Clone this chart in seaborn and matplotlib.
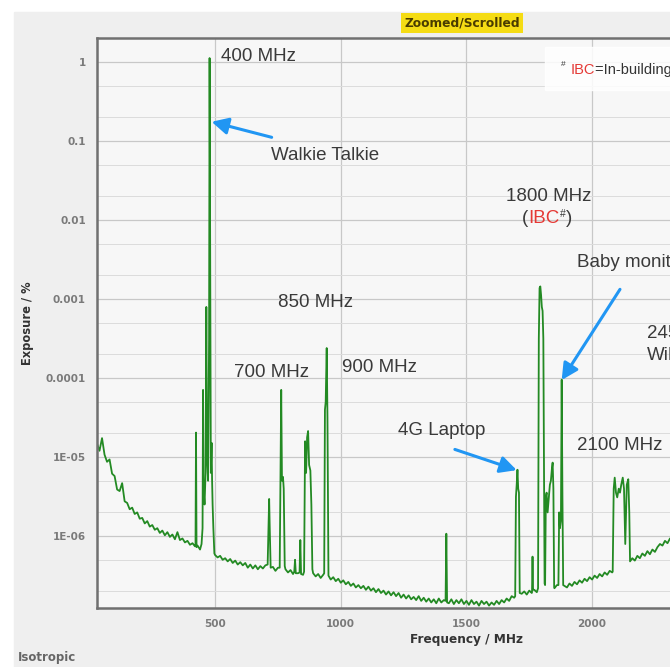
import numpy as np
import pandas as pd
import seaborn as sns
from matplotlib import pyplot as plt
from matplotlib.patches import Rectangle
from matplotlib.ticker import FixedLocator, LogLocator, NullFormatter

# baseline noise floor, log10(exposure %), sampled every 10 MHz from 30 to 2310 MHz
base_freq = np.arange(30, 2320, 10)
base_log = np.array([
    -4.83, -4.92, -4.76, -4.97, -5.06, -5.03, -5.21, -5.24, -5.41, -5.43,
    -5.33, -5.56, -5.58, -5.66, -5.64, -5.72, -5.70, -5.78, -5.77, -5.84,
    -5.81, -5.88, -5.86, -5.92, -5.90, -5.96, -5.93, -5.99, -5.95, -6.01,
    -5.98, -6.04, -5.95, -6.05, -6.03, -6.08, -6.06, -6.11, -6.09, -6.13,
    -6.12, -6.17, -6.00, -5.60, -5.40, -5.30, -5.70, -6.24, -6.27, -6.25,
    -6.30, -6.28, -6.32, -6.29, -6.34, -6.31, -6.36, -6.33, -6.37, -6.34,
    -6.40, -6.36, -6.41, -6.37, -6.42, -6.38, -6.41, -6.37, -6.35, -6.42,
    -6.39, -6.44, -6.40, -6.40, -5.30, -6.42, -6.46, -6.43, -6.48, -6.44,
    -6.47, -6.45, -6.49, -5.00, -5.00, -5.20, -6.47, -6.51, -6.48, -6.53,
    -6.49, -4.30, -6.50, -6.55, -6.52, -6.57, -6.54, -6.59, -6.56, -6.61,
    -6.58, -6.63, -6.60, -6.65, -6.62, -6.66, -6.63, -6.68, -6.64, -6.69,
    -6.66, -6.71, -6.67, -6.72, -6.69, -6.74, -6.70, -6.75, -6.71, -6.76,
    -6.72, -6.78, -6.74, -6.79, -6.75, -6.80, -6.77, -6.81, -6.76, -6.82,
    -6.78, -6.83, -6.79, -6.84, -6.80, -6.85, -6.79, -6.84, -6.81, -6.80,
    -6.85, -6.80, -6.86, -6.81, -6.85, -6.80, -6.86, -6.82, -6.87, -6.81,
    -6.86, -6.83, -6.88, -6.82, -6.86, -6.83, -6.88, -6.84, -6.87, -6.82,
    -6.86, -6.81, -6.84, -6.79, -6.82, -6.76, -6.78, -5.40, -5.50, -6.73,
    -6.70, -6.74, -6.69, -6.72, -6.68, -6.71, -3.00, -3.00, -6.00, -5.50,
    -5.50, -5.20, -6.66, -6.62, -5.70, -5.50, -6.63, -6.65, -6.60, -6.63,
    -6.58, -6.61, -6.56, -6.59, -6.54, -6.57, -6.52, -6.55, -6.50, -6.53,
    -6.48, -6.51, -6.46, -6.49, -6.44, -6.46, -5.30, -5.50, -5.45, -5.30,
    -6.00, -5.40, -6.32, -6.28, -6.31, -6.25, -6.28, -6.22, -6.25, -6.19,
    -6.23, -6.17, -6.20, -6.14, -6.10, -6.12, -6.06, -6.09, -6.03,
])

# emission peaks (MHz, log10 exposure %)
spike424_f = [422, 424, 426]
spike424_v = [-6.12, -4.69, -6.14]
walkie_f = [446, 450, 452, 454, 458, 462, 465, 468, 472, 476, 478, 480, 483, 486, 488, 490, 493, 497]
walkie_v = [-6.10, -5.90, -4.15, -5.40, -5.60, -5.20, -3.10, -5.00, -5.30, -3.50, 0.05, -2.00,
            -5.20, -4.82, -5.30, -5.60, -5.90, -6.22]
b700_f = [709, 713, 715, 717, 721]
b700_v = [-6.36, -5.80, -5.53, -5.85, -6.40]
b760_f = [757, 760, 763, 766, 770, 773, 777]
b760_v = [-6.40, -5.30, -4.15, -5.30, -5.25, -5.40, -6.38]
s818_f = [815, 818, 821]
s818_v = [-6.45, -6.30, -6.47]
s839_f = [836, 839, 842]
s839_v = [-6.46, -6.05, -6.48]
b870_f = [854, 858, 862, 866, 870, 874, 879, 883, 887]
b870_v = [-6.45, -4.80, -5.20, -4.75, -4.67, -5.10, -5.17, -5.60, -6.42]
b940_f = [934, 937, 940, 944, 947, 951]
b940_v = [-6.47, -4.40, -4.30, -3.62, -4.50, -6.50]
s1420_f = [1417, 1420, 1423]
s1420_v = [-6.82, -5.97, -6.84]
lte_f = [1694, 1697, 1700, 1703, 1706, 1709, 1712]
lte_v = [-6.76, -5.50, -5.35, -5.16, -5.40, -5.45, -6.72]
s1763_f = [1761, 1763, 1765]
s1763_v = [-6.70, -6.26, -6.68]
b1800_f = [1785, 1788, 1791, 1794, 1797, 1800, 1803, 1806, 1809, 1811]
b1800_v = [-6.66, -3.50, -2.86, -2.84, -2.95, -3.10, -3.15, -3.50, -5.50, -6.60]
b1830_f = [1813, 1816, 1819, 1823, 1827, 1832, 1836, 1840, 1843, 1846, 1849]
b1830_v = [-6.62, -5.50, -5.45, -5.70, -5.55, -5.35, -5.30, -5.15, -5.07, -5.40, -6.64]
baby_f = [1866, 1869, 1872, 1876, 1879, 1882, 1885]
baby_v = [-6.62, -5.70, -5.90, -5.80, -4.02, -5.50, -6.62]
b2100_f = [2082, 2086, 2090, 2095, 2100, 2106, 2111, 2116, 2122, 2127, 2132, 2138, 2144, 2148, 2151]
b2100_v = [-6.45, -5.40, -5.26, -5.45, -5.51, -5.40, -5.45, -5.35, -5.26, -5.40, -6.10, -5.35,
           -5.28, -5.70, -6.32]

xtick_vals = [500, 1000, 1500, 2000]
ytick_vals = [1, 0.1, 0.01, 0.001, 0.0001, 1e-5, 1e-6]
ytick_labels = ['1', '0.1', '0.01', '0.001', '0.0001', '1E-05', '1E-06']

peaks = [(spike424_f, spike424_v), (walkie_f, walkie_v), (b700_f, b700_v), (b760_f, b760_v),
         (s818_f, s818_v), (s839_f, s839_v), (b870_f, b870_v), (b940_f, b940_v),
         (s1420_f, s1420_v), (lte_f, lte_v), (s1763_f, s1763_v), (b1800_f, b1800_v),
         (b1830_f, b1830_v), (baby_f, baby_v), (b2100_f, b2100_v)]

keep = np.ones(len(base_freq), dtype=bool)
for f, v in peaks:
    keep &= ~((base_freq >= min(f)) & (base_freq <= max(f)))
freq = np.concatenate([base_freq[keep]] + [np.array(f) for f, v in peaks])
logv = np.concatenate([base_log[keep]] + [np.array(v) for f, v in peaks])
df = pd.DataFrame({'freq': freq, 'exposure': 10.0 ** logv}).sort_values('freq')

sns.set_style('white')
plt.rcParams['font.family'] = ['Liberation Sans', 'DejaVu Sans']

W, H = 670, 667
fig = plt.figure(figsize=(W / 100, H / 100), dpi=100)
fig.patch.set_facecolor('white')
fig.add_artist(Rectangle((14 / W, 0), 1, 1 - 12 / H, transform=fig.transFigure,
                         color='#efefef', zorder=0))

ax = fig.add_axes([97 / W, 1 - 608 / H, (W - 97) / W, (608 - 38) / H])
ax.set_facecolor('#f7f7f7')
sns.lineplot(data=df, x='freq', y='exposure', ax=ax, color='#238a23', lw=1.3,
             estimator=None, sort=True)
ax.set_yscale('log')
ax.set_xlim(30, 2310)
ax.set_ylim(10 ** -6.91, 10 ** 0.304)

ax.set_xticks(xtick_vals)
ax.yaxis.set_major_locator(FixedLocator(ytick_vals))
ax.set_yticklabels(ytick_labels)
ax.yaxis.set_minor_locator(LogLocator(base=10, subs=[2, 5]))
ax.yaxis.set_minor_formatter(NullFormatter())
ax.grid(which='major', axis='both', color='#c8c8c8', lw=0.9)
ax.grid(which='minor', axis='y', color='#dcdcdc', lw=0.7)
ax.set_axisbelow(True)
ax.tick_params(which='major', length=5, color='#a0a0a0', labelsize=7.5,
               labelcolor='#7a7a7a', pad=3)
ax.tick_params(which='minor', length=0)
for lbl in ax.get_xticklabels() + ax.get_yticklabels():
    lbl.set_family('DejaVu Sans')
    lbl.set_fontweight('bold')
ax.set_xlabel('')
ax.set_ylabel('')
ax.spines['right'].set_visible(False)
for s in ['left', 'bottom', 'top']:
    ax.spines[s].set_color('#707070')
    ax.spines[s].set_linewidth(1.8)

fig.text(466 / W, 1 - 640 / H, 'Frequency / MHz', ha='center', va='center',
         family='DejaVu Sans', weight='bold', fontsize=8.7, color='#333333')
fig.text(28 / W, 1 - 323 / H, 'Exposure / %', ha='center', va='center', rotation=90,
         family='DejaVu Sans', weight='bold', fontsize=8.3, color='#333333')
fig.text(18 / W, 1 - 658 / H, 'Isotropic', ha='left', va='center',
         family='DejaVu Sans', weight='bold', fontsize=8.5, color='#666666')
fig.text(462 / W, 1 - 23 / H, 'Zoomed/Scrolled', ha='center', va='center',
         family='DejaVu Sans', weight='bold', fontsize=8.8, color='#4a3c00',
         bbox=dict(boxstyle='square,pad=0.3', fc='#f5dc14', ec='none'))

# footnote box top right, drawn above the plot
ax.add_patch(Rectangle((545 / W, 1 - 90 / H), 1, 43 / H, transform=fig.transFigure,
                       color='white', alpha=0.85, zorder=5, clip_on=False))
ax.text(561 / W, 1 - 64 / H, '#', transform=fig.transFigure, ha='left', va='center',
        fontsize=6, color='#333333', zorder=6)
fn2 = ax.text(571 / W, 1 - 70 / H, 'IBC', transform=fig.transFigure, ha='left', va='center',
              fontsize=10.5, color='#e53935', zorder=6)
ax.annotate('=In-building coverage', xy=(1, 0), xycoords=fn2, va='bottom', ha='left',
            fontsize=10.5, color='#333333', zorder=6, annotation_clip=False)

txt = dict(fontsize=13.5, color='#3a3a3a', va='center', ha='left')
ax.text(522, 10 ** 0.076, '400 MHz', **txt)
ax.text(721, 10 ** -1.177, 'Walkie Talkie', **txt)
ax.text(749, 10 ** -3.047, '850 MHz', **txt)
ax.text(575, 10 ** -3.933, '700 MHz', **txt)
ax.text(1004, 10 ** -3.865, '900 MHz', **txt)
ax.text(1228, 10 ** -4.658, '4G Laptop', **txt)
ax.text(1939, 10 ** -4.848, '2100 MHz', **txt)
ax.text(1941, 10 ** -2.541, 'Baby monitor', **txt)
ax.text(2217, 10 ** -3.434, '2450 MHz', **txt)
ax.text(2217, 10 ** -3.709, 'WiFi', **txt)
ax.text(1827, 10 ** -1.696, '1800 MHz', fontsize=13.5, color='#3a3a3a', va='center', ha='center')
p1 = ax.text(1722, 10 ** -1.978, '(', fontsize=13.5, color='#3a3a3a', va='center', ha='left')
p2 = ax.annotate('IBC', xy=(1, 0), xycoords=p1, va='bottom', ha='left',
                 fontsize=13.5, color='#e53935')
p3 = ax.annotate('#', xy=(1, 0.45), xycoords=p2, va='bottom', ha='left',
                 fontsize=7.5, color='#3a3a3a')
ax.annotate(')', xy=(1, 0), xycoords=(p3, p2), va='bottom', ha='left',
            fontsize=13.5, color='#3a3a3a')

arrow = dict(arrowstyle='-|>,head_length=0.55,head_width=0.28', color='#2196f3', lw=2.2,
             shrinkA=0, shrinkB=0, mutation_scale=18)
ax.annotate('', xy=(486, 10 ** -0.756), xytext=(725, 10 ** -0.953), arrowprops=arrow)
ax.annotate('', xy=(1700, 10 ** -5.165), xytext=(1454, 10 ** -4.903), arrowprops=arrow)
ax.annotate('', xy=(1879, 10 ** -4.025), xytext=(2111, 10 ** -2.877), arrowprops=arrow)

fig.savefig('out.png', dpi=100, facecolor=fig.get_facecolor())
